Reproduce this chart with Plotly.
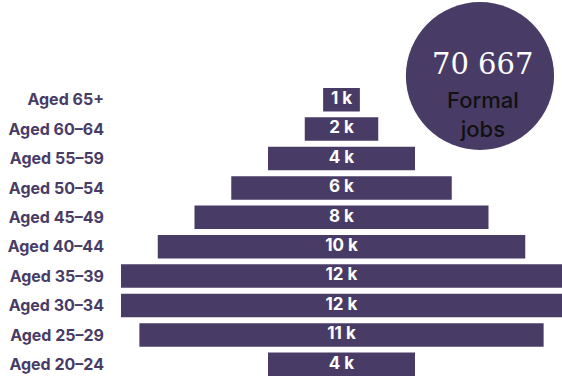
import plotly.graph_objects as go

categories = ["Aged 20–24", "Aged 25–29", "Aged 30–34", "Aged 35–39", "Aged 40–44",
              "Aged 45–49", "Aged 50–54", "Aged 55–59", "Aged 60–64", "Aged 65+"]
values_k = [4.0, 11.0, 12.0, 12.0, 10.0, 8.0, 6.0, 4.0, 2.0, 1.0]
labels = ["4 k", "11 k", "12 k", "12 k", "10 k", "8 k", "6 k", "4 k", "2 k", "1 k"]
total_text = "70 667"
total_caption = "Formal<br>jobs"

PURPLE = "#483c66"

fig = go.Figure()
fig.add_trace(go.Bar(
    y=categories,
    x=values_k,
    base=[-v / 2 for v in values_k],
    orientation="h",
    marker=dict(color=PURPLE, line=dict(width=0)),
    hoverinfo="skip",
))
fig.add_trace(go.Scatter(
    y=categories,
    x=[0] * len(categories),
    mode="text",
    text=labels,
    textposition="middle center",
    textfont=dict(family="Inter", size=17, color="white", weight="bold"),
    hoverinfo="skip",
    cliponaxis=False,
))

fig.add_shape(type="circle", xref="paper", yref="paper",
              x0=0.646, x1=0.982, y0=0.779, y1=1.282,
              fillcolor=PURPLE, line=dict(width=0), layer="above")
fig.add_annotation(xref="paper", yref="paper", x=0.82, y=1.071,
                   xanchor="center", yanchor="middle",
                   text=total_text, showarrow=False,
                   font=dict(family="DejaVu Serif", size=29, color="white"))
fig.add_annotation(xref="paper", yref="paper", x=0.82, y=0.898,
                   xanchor="center", yanchor="middle",
                   text=total_caption, showarrow=False,
                   font=dict(family="Inter", size=22, color="#111111", weight=500))

fig.update_layout(
    width=562, height=381,
    margin=dict(l=121, r=0, t=85, b=2),
    paper_bgcolor="white", plot_bgcolor="white",
    bargap=0.2,
    showlegend=False,
    xaxis=dict(range=[-6, 6], visible=False, fixedrange=True),
    yaxis=dict(showgrid=False, zeroline=False, showline=False, ticks="",
               ticklabelstandoff=16, automargin=False, fixedrange=True,
               tickfont=dict(family="Inter", size=16, color=PURPLE, weight="bold")),
)

fig.write_html("out.html", config={"displayModeBar": False},
               post_script="document.body.style.margin='0';document.body.style.overflow='hidden';")
